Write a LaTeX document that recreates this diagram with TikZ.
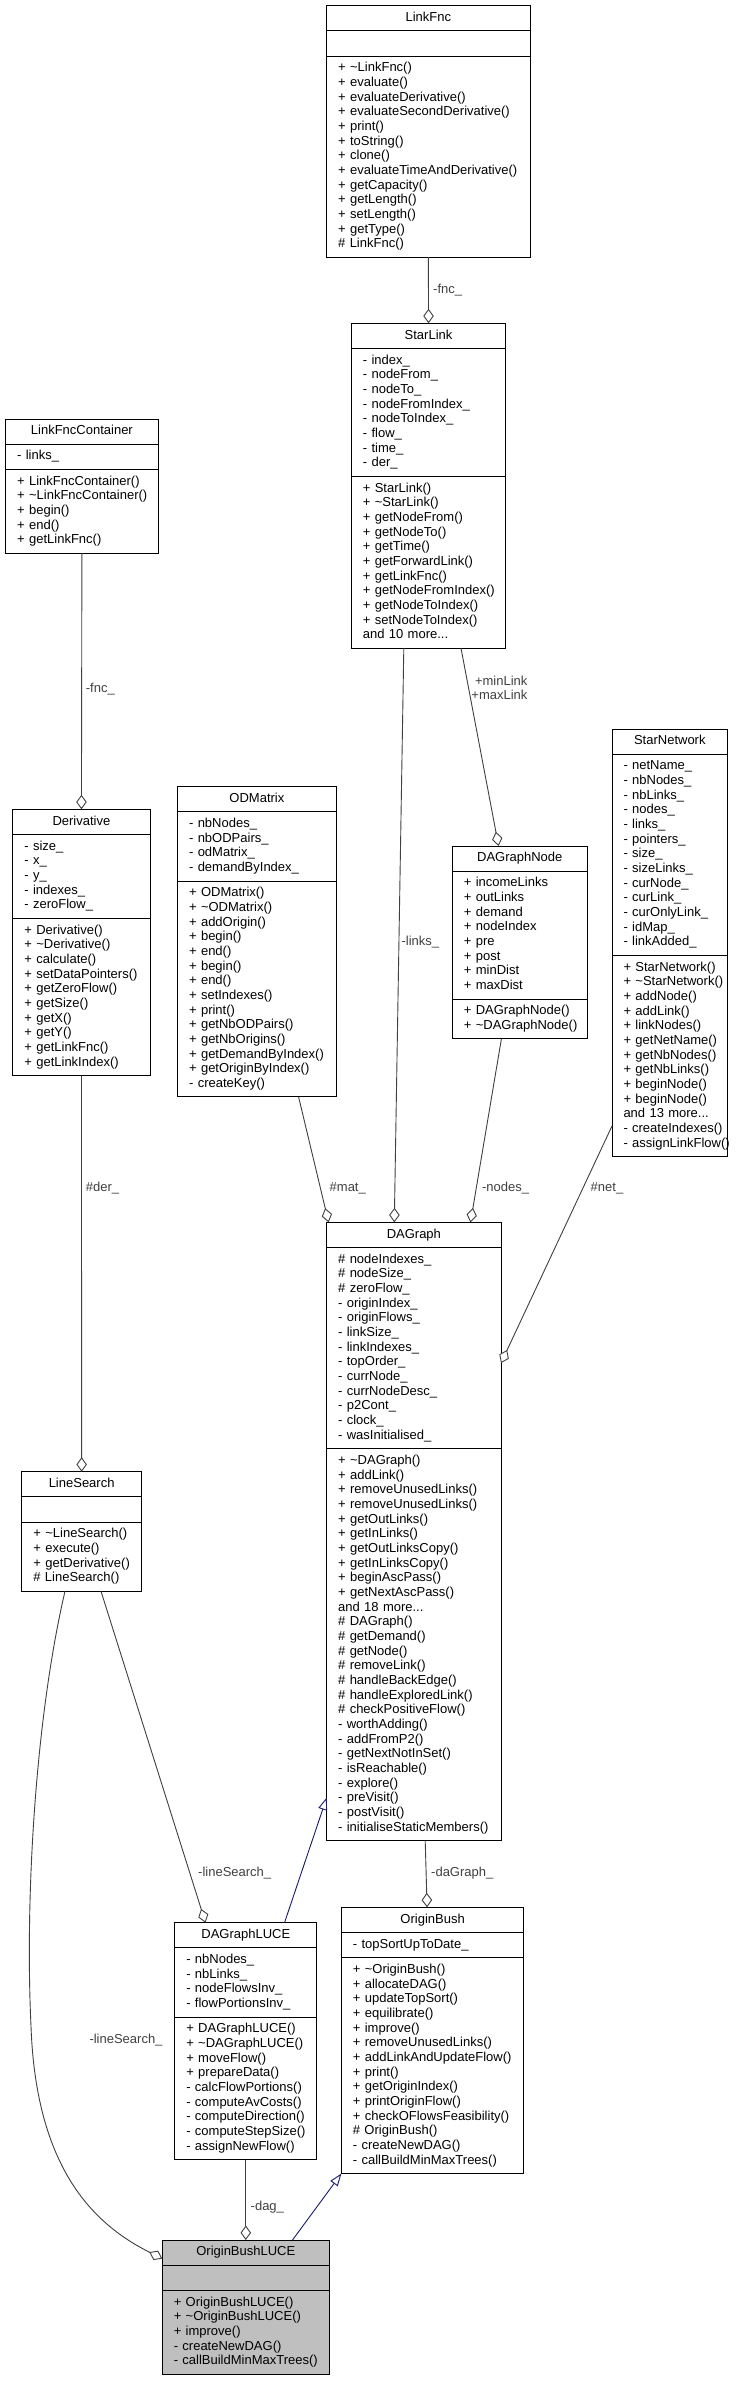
\documentclass[tikz,border=0pt]{standalone}
\usepackage{fontspec}
\setmainfont{Liberation Sans}
\usetikzlibrary{arrows.meta}
\definecolor{grey25}{HTML}{404040}
\definecolor{grey75}{HTML}{BFBFBF}
\definecolor{midblue}{HTML}{191970}
\newcommand{\fsz}{\fontsize{13pt}{14.67pt}\selectfont}
\newcommand{\srt}{\rule[-4.17pt]{0pt}{14.67pt}}
\newcommand{\tldx}{\textasciitilde}
\hyphenpenalty=10000
\exhyphenpenalty=10000
\setlength{\parindent}{0pt}
\tikzset{
  clsbase/.style={draw=black, line width=1pt, fill=white, inner xsep=11.5pt, inner ysep=5.25pt, outer sep=0pt, font=\fsz, anchor=north west, execute at begin node=\srt, execute at end node=\srt},
  clstitle/.style={clsbase, align=center},
  clsbody/.style={clsbase, align=left},
  agg/.style={draw=grey25, line width=0.9pt, -{Diamond[length=14.5pt, width=10.5pt, fill=white]}},
  inh/.style={draw=midblue, line width=0.9pt, -{Triangle[length=12.5pt, width=9pt, fill=white]}},
  lbl/.style={font=\fsz, text=grey25, inner sep=0pt},
}
\newcommand{\umlcls}[8]{%
  \node[clstitle, text width=#4pt, #5] (#1-t) at (#2,#3) {#6};
  \node[clsbody, text width=#4pt, #5] (#1-a) at (#1-t.south west) {#7};
  \node[clsbody, text width=#4pt, #5] (#1-m) at (#1-a.south west) {#8};
}
\begin{document}
\begin{tikzpicture}[x=1pt, y=-1pt]
\path[use as bounding box, fill=white] (0,0) rectangle (743,2381);

\umlcls{lf}{326.7}{5.7}{180.3}{}{LinkFnc}{}{%
+~\tldx LinkFnc()\\+~evaluate()\\+~evaluateDerivative()\\+~evaluateSecondDerivative()\\+~print()\\+~toString()\\+~clone()\\+~evaluateTimeAndDerivative()\\+~getCapacity()\\+~getLength()\\+~setLength()\\+~getType()\\\#~LinkFnc()}

\umlcls{sl}{351.4}{323.3}{131.3}{}{StarLink}{%
-~index\_\\-~nodeFrom\_\\-~nodeTo\_\\-~nodeFromIndex\_\\-~nodeToIndex\_\\-~flow\_\\-~time\_\\-~der\_}{%
+~StarLink()\\+~\tldx StarLink()\\+~getNodeFrom()\\+~getNodeTo()\\+~getTime()\\+~getForwardLink()\\+~getLinkFnc()\\+~getNodeFromIndex()\\+~getNodeToIndex()\\+~setNodeToIndex()\\and 10 more...}

\umlcls{lfc}{5.7}{419}{129.4}{}{LinkFncContainer}{-~links\_}{%
+~LinkFncContainer()\\+~\tldx LinkFncContainer()\\+~begin()\\+~end()\\+~getLinkFnc()}

\umlcls{der}{12.9}{809.3}{114.1}{}{Derivative}{%
-~size\_\\-~x\_\\-~y\_\\-~indexes\_\\-~zeroFlow\_}{%
+~Derivative()\\+~\tldx Derivative()\\+~calculate()\\+~setDataPointers()\\+~getZeroFlow()\\+~getSize()\\+~getX()\\+~getY()\\+~getLinkFnc()\\+~getLinkIndex()}

\umlcls{od}{177.6}{786.7}{135.6}{}{ODMatrix}{%
-~nbNodes\_\\-~nbODPairs\_\\-~odMatrix\_\\-~demandByIndex\_}{%
+~ODMatrix()\\+~\tldx ODMatrix()\\+~addOrigin()\\+~begin()\\+~end()\\+~begin()\\+~end()\\+~setIndexes()\\+~print()\\+~getNbODPairs()\\+~getNbOrigins()\\+~getDemandByIndex()\\+~getOriginByIndex()\\-~createKey()}

\umlcls{dgn}{452.4}{846}{111.7}{}{DAGraphNode}{%
+~incomeLinks\\+~outLinks\\+~demand\\+~nodeIndex\\+~pre\\+~post\\+~minDist\\+~maxDist}{%
+~DAGraphNode()\\+~\tldx DAGraphNode()}

\umlcls{sn}{612}{729}{92.6}{}{StarNetwork}{%
-~netName\_\\-~nbNodes\_\\-~nbLinks\_\\-~nodes\_\\-~links\_\\-~pointers\_\\-~size\_\\-~sizeLinks\_\\-~curNode\_\\-~curLink\_\\-~curOnlyLink\_\\-~idMap\_\\-~linkAdded\_}{%
+~StarNetwork()\\+~\tldx StarNetwork()\\+~addNode()\\+~addLink()\\+~linkNodes()\\+~getNetName()\\+~getNbNodes()\\+~getNbLinks()\\+~beginNode()\\+~beginNode()\\and 13 more...\\-~createIndexes()\\-~assignLinkFlow()}

\umlcls{dg}{326.7}{1222.3}{151.3}{}{DAGraph}{%
\#~nodeIndexes\_\\\#~nodeSize\_\\\#~zeroFlow\_\\-~originIndex\_\\-~originFlows\_\\-~linkSize\_\\-~linkIndexes\_\\-~topOrder\_\\-~currNode\_\\-~currNodeDesc\_\\-~p2Cont\_\\-~clock\_\\-~wasInitialised\_}{%
+~\tldx DAGraph()\\+~addLink()\\+~removeUnusedLinks()\\+~removeUnusedLinks()\\+~getOutLinks()\\+~getInLinks()\\+~getOutLinksCopy()\\+~getInLinksCopy()\\+~beginAscPass()\\+~getNextAscPass()\\and 18 more...\\\#~DAGraph()\\\#~getDemand()\\\#~getNode()\\\#~removeLink()\\\#~handleBackEdge()\\\#~handleExploredLink()\\\#~checkPositiveFlow()\\-~worthAdding()\\-~addFromP2()\\-~getNextNotInSet()\\-~isReachable()\\-~explore()\\-~preVisit()\\-~postVisit()\\-~initialiseStaticMembers()}

\umlcls{ls}{21.9}{1471.7}{96.5}{}{LineSearch}{}{%
+~\tldx LineSearch()\\+~execute()\\+~getDerivative()\\\#~LineSearch()}

\umlcls{dgl}{174.8}{1922.7}{119}{}{DAGraphLUCE}{%
-~nbNodes\_\\-~nbLinks\_\\-~nodeFlowsInv\_\\-~flowPortionsInv\_}{%
+~DAGraphLUCE()\\+~\tldx DAGraphLUCE()\\+~moveFlow()\\+~prepareData()\\-~calcFlowPortions()\\-~computeAvCosts()\\-~computeDirection()\\-~computeStepSize()\\-~assignNewFlow()}

\umlcls{ob}{341.4}{1907.3}{159.4}{}{OriginBush}{-~topSortUpToDate\_}{%
+~\tldx OriginBush()\\+~allocateDAG()\\+~updateTopSort()\\+~equilibrate()\\+~improve()\\+~removeUnusedLinks()\\+~addLinkAndUpdateFlow()\\+~print()\\+~getOriginIndex()\\+~printOriginFlow()\\+~checkOFlowsFeasibility()\\\#~OriginBush()\\-~createNewDAG()\\-~callBuildMinMaxTrees()}

\umlcls{obl}{162.3}{2240}{144}{fill=grey75}{OriginBushLUCE}{}{%
+~OriginBushLUCE()\\+~\tldx OriginBushLUCE()\\+~improve()\\-~createNewDAG()\\-~callBuildMinMaxTrees()}

% connectors
\draw[agg] (lf-m.south) -- (sl-t.north);
\draw[agg] (lfc-m.south) -- (der-t.north);
\draw[agg] (der-m.south) -- (ls-t.north);
\draw[agg] ([xshift=121pt]od-m.south west) -- ([xshift=1.9pt]dg-t.north west);
\draw[agg] ([xshift=52.4pt]sl-m.south west) -- ([xshift=67.6pt]dg-t.north west);
\draw[agg] ([xshift=109.6pt]sl-m.south west) -- ([xshift=46.2pt]dgn-t.north west);
\draw[agg] ([xshift=49pt]dgn-m.south west) -- ([xshift=143.8pt]dg-t.north west);
\draw[agg] ([yshift=30.6pt]sn-m.south west) -- ([yshift=-15pt]dg-a.east);
\draw[agg] ([xshift=79.1pt]ls-m.south west) -- ([xshift=30.7pt]dgl-t.north west);
\coordinate (lsbend) at (31,2026);
\draw[agg] ([xshift=43.1pt]ls-m.south west) .. controls (35,1720) and (25,1900) .. (lsbend) .. controls (36,2170) and (95,2225) .. ([yshift=-6pt]obl-t.west);
\draw[agg] ([xshift=98.5pt]dg-m.south west) -- ([xshift=85.7pt]ob-t.north west);
\draw[agg] (dgl-m.south) -- (obl-t.north);
\draw[inh] ([xshift=109.7pt]dgl-t.north west) -- ([yshift=43.1pt]dg-m.south west);
\draw[inh] ([xshift=130.2pt]obl-t.north west) -- (ob-m.south west);

% labels
\node[lbl, anchor=west] (lb1) at (433,290) {-fnc\_};
\node[lbl, anchor=west] (lb2) at (85.7,689) {-fnc\_};
\node[lbl, anchor=west] (lb3) at (85.7,1188.3) {\#der\_};
\node[lbl, anchor=west] (lb4) at (329.5,1188.3) {\#mat\_};
\node[lbl, anchor=west] (lb5) at (401.4,941.7) {-links\_};
\node[lbl, anchor=east, align=right] (lb6) at (527.6,688) {+minLink\\+maxLink};
\node[lbl, anchor=west] (lb7) at (481.9,1188.3) {-nodes\_};
\node[lbl, anchor=west] (lb8) at (590.5,1188.3) {\#net\_};
\node[lbl, anchor=west] (lb9) at (198,1873.3) {-lineSearch\_};
\node[lbl, anchor=west] (lb10) at (431,1873.3) {-daGraph\_};
\node[lbl, anchor=west] (lb11) at (89.3,2039.8) {-lineSearch\_};
\node[lbl, anchor=west] (lb12) at (250.5,2206.7) {-dag\_};
\end{tikzpicture}
\end{document}
